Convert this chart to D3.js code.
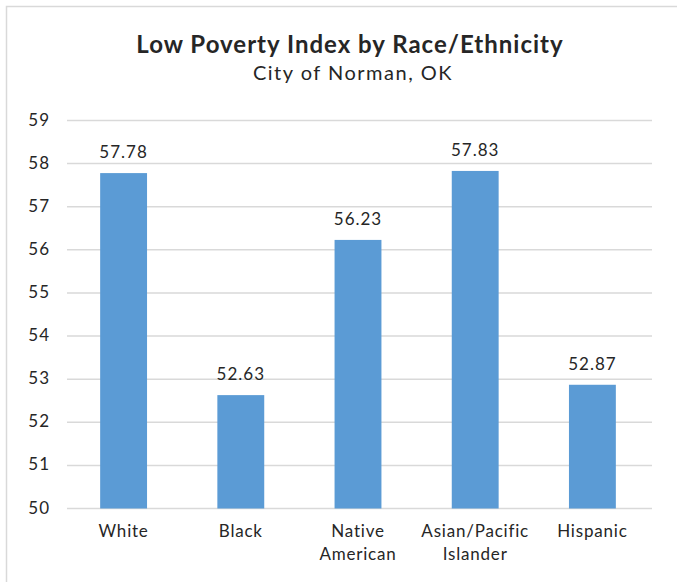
<!DOCTYPE html>
<html>
<head>
<meta charset="utf-8">
<script src="https://cdn.jsdelivr.net/npm/d3@7"></script>
<style>
  body { margin: 0; background: #fff; }
  text { font-family: Lato, "Open Sans", sans-serif; fill: #262626; }
</style>
</head>
<body>
<svg id="chart" width="677" height="582"></svg>
<script>
const categories = [["White"], ["Black"], ["Native", "American"], ["Asian/Pacific", "Islander"], ["Hispanic"]];
const values = [57.78, 52.63, 56.23, 57.83, 52.87];
const yTicks = [50, 51, 52, 53, 54, 55, 56, 57, 58, 59];

const svg = d3.select("#chart");

// outer chart frame (cropped on right/bottom like the picture)
svg.append("path")
  .attr("d", "M6.5,582 V6.5 H677")
  .attr("fill", "none")
  .attr("stroke", "#d9d9d9")
  .attr("stroke-width", 1.5);

const x = d3.scaleBand()
  .domain(categories.map((c, i) => i))
  .range([65, 651])
  .paddingInner(0.6)
  .paddingOuter(0.3);

const y = d3.scaleLinear().domain([50, 59]).range([508.5, 120.5]);

// gridlines
svg.append("g")
  .selectAll("line")
  .data(yTicks)
  .join("line")
  .attr("x1", 67)
  .attr("x2", 652)
  .attr("y1", d => y(d))
  .attr("y2", d => y(d))
  .attr("stroke", "#d9d9d9")
  .attr("stroke-width", 1.5);

// y labels
svg.append("g")
  .selectAll("text")
  .data(yTicks)
  .join("text")
  .attr("x", 50)
  .attr("y", d => y(d) + 5)
  .attr("text-anchor", "end")
  .attr("font-size", 17)
  .attr("letter-spacing", 1)
  .text(d => d);

// bars
svg.append("g")
  .selectAll("rect")
  .data(values)
  .join("rect")
  .attr("x", (d, i) => x(i))
  .attr("width", x.bandwidth())
  .attr("y", d => y(d))
  .attr("height", d => y(50) - y(d))
  .attr("fill", "#5b9bd5");

// value labels
svg.append("g")
  .selectAll("text")
  .data(values)
  .join("text")
  .attr("x", (d, i) => x(i) + x.bandwidth() / 2)
  .attr("y", d => y(d) - 15)
  .attr("text-anchor", "middle")
  .attr("font-size", 17)
  .attr("letter-spacing", 1)
  .text(d => d.toFixed(2));

// category labels
const cat = svg.append("g")
  .selectAll("text")
  .data(categories)
  .join("text")
  .attr("x", (d, i) => x(i) + x.bandwidth() / 2)
  .attr("y", 537)
  .attr("text-anchor", "middle")
  .attr("font-size", 17)
  .attr("letter-spacing", 0.8);
cat.selectAll("tspan")
  .data(d => d)
  .join("tspan")
  .attr("x", function() { return d3.select(this.parentNode).attr("x"); })
  .attr("dy", (d, i) => i === 0 ? 0 : 23)
  .text(d => d);

// titles
svg.append("text")
  .attr("x", 350)
  .attr("y", 53)
  .attr("text-anchor", "middle")
  .attr("font-size", 24)
  .attr("font-weight", "bold")
  .attr("letter-spacing", 1)
  .text("Low Poverty Index by Race/Ethnicity");

svg.append("text")
  .attr("x", 353)
  .attr("y", 80)
  .attr("text-anchor", "middle")
  .attr("font-size", 20)
  .attr("letter-spacing", 1.5)
  .text("City of Norman, OK");
</script>
</body>
</html>
